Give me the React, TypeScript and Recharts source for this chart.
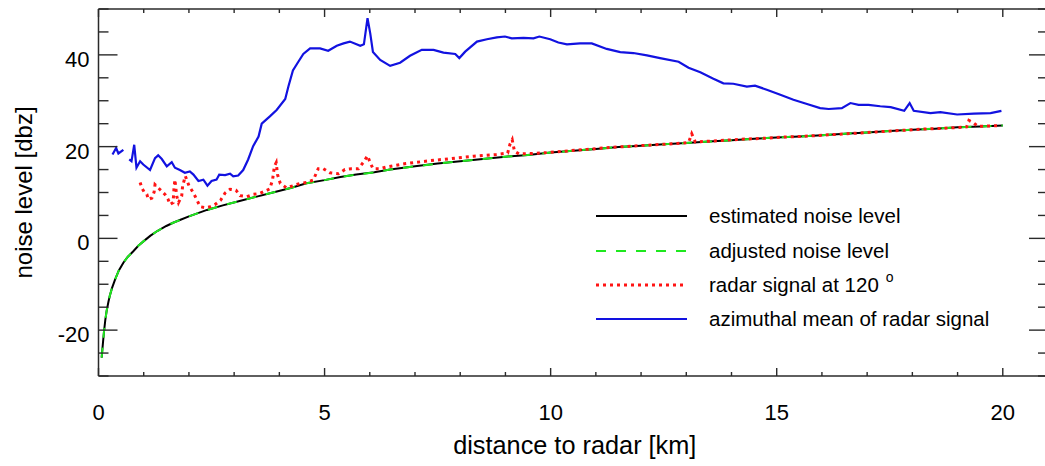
import React from 'react';
import { LineChart, Line, XAxis, YAxis, Legend, Label } from 'recharts';

const FONT = '"Liberation Sans", Arial, Helvetica, sans-serif';
const AXIS = '#2a2a2a';

// tick values
const xTicks = [0, 1, 2, 3, 4, 5, 6, 7, 8, 9, 10, 11, 12, 13, 14, 15, 16, 17, 18, 19, 20, 21];
const xLabelTicks = [0, 5, 10, 15, 20];
const yTicks = [-30, -25, -20, -15, -10, -5, 0, 5, 10, 15, 20, 25, 30, 35, 40, 45, 50];
const yLabelTicks = [-20, 0, 20, 40];

// estimated / adjusted noise level
const noiseKm = [0.07, 0.085, 0.1, 0.12, 0.15, 0.18, 0.22, 0.25, 0.3, 0.37, 0.45, 0.55, 0.65, 0.77, 0.88, 1.0, 1.15, 1.3, 1.5, 1.65, 1.8, 2.0, 2.2, 2.4, 2.75, 3.1, 3.5, 3.9, 4.25, 4.6, 5.0, 5.35, 5.7, 6.1, 6.45, 7.0, 7.5, 8.0, 8.5, 9.0, 9.5, 10.0, 10.5, 11.0, 11.5, 12.0, 12.5, 13.0, 13.5, 14.0, 14.5, 15.0, 15.5, 16.0, 16.5, 17.0, 17.5, 18.0, 18.5, 19.0, 19.5, 20.0];
const estimatedNoise = [-26.0, -24.3, -22.6, -20.5, -17.8, -15.8, -13.8, -12.5, -10.8, -8.9, -7.0, -5.3, -4.0, -2.8, -1.6, -0.6, 0.6, 1.6, 2.7, 3.4, 4.0, 4.8, 5.5, 6.2, 7.2, 8.1, 9.1, 10.1, 11.0, 12.0, 12.7, 13.4, 13.9, 14.4, 15.0, 15.7, 16.3, 16.8, 17.3, 17.8, 18.2, 18.7, 19.1, 19.5, 19.9, 20.2, 20.5, 20.8, 21.1, 21.4, 21.7, 22.0, 22.2, 22.5, 22.8, 23.1, 23.4, 23.7, 23.9, 24.2, 24.4, 24.6];
const adjustedNoise = [-26.0, -24.3, -22.6, -20.5, -17.8, -15.8, -13.8, -12.5, -10.8, -8.9, -7.0, -5.3, -4.0, -2.8, -1.6, -0.6, 0.6, 1.6, 2.7, 3.4, 4.0, 4.8, 5.5, 6.2, 7.2, 8.1, 9.1, 10.1, 11.0, 12.0, 12.7, 13.4, 13.9, 14.4, 15.0, 15.7, 16.3, 16.8, 17.3, 17.8, 18.2, 18.7, 19.1, 19.5, 19.9, 20.2, 20.5, 20.8, 21.1, 21.4, 21.7, 22.0, 22.2, 22.5, 22.8, 23.1, 23.4, 23.7, 23.9, 24.2, 24.4, 24.6];

// radar signal at 120 degrees
const radarKm = [0.92, 0.96, 1.01, 1.07, 1.10, 1.18, 1.23, 1.25, 1.47, 1.54, 1.58, 1.65, 1.67, 1.69, 1.73, 1.77, 1.84, 1.86, 1.89, 1.92, 2.0, 2.10, 2.17, 2.25, 2.36, 2.47, 2.58, 2.70, 2.80, 2.91, 3.04, 3.13, 3.28, 3.42, 3.57, 3.68, 3.79, 3.85, 3.89, 3.93, 3.96, 4.02, 4.16, 4.31, 4.46, 4.61, 4.75, 4.86, 4.97, 5.12, 5.31, 5.45, 5.60, 5.75, 5.86, 5.95, 6.01, 6.07, 6.23, 6.38, 6.8, 7.3, 7.8, 8.3, 8.8, 9.05, 9.1, 9.15, 9.2, 9.3, 9.8, 10.3, 10.8, 11.3, 11.8, 12.3, 12.8, 13.05, 13.12, 13.2, 13.7, 14.2, 14.7, 15.2, 15.7, 16.2, 16.7, 17.2, 17.7, 18.2, 18.7, 19.2, 19.25, 19.35, 19.45, 19.95];
const radarSignal = [12.2, 11.0, 10.1, 9.6, 8.5, 8.8, 10.1, 11.7, 9.6, 8.5, 7.4, 7.8, 11.0, 12.8, 9.2, 7.8, 9.2, 11.4, 12.5, 13.6, 11.5, 9.9, 8.5, 6.9, 6.7, 6.9, 7.4, 8.3, 9.9, 10.7, 10.5, 9.3, 9.1, 9.6, 9.8, 10.3, 10.8, 12.8, 15.7, 16.5, 13.9, 12.0, 11.0, 11.5, 12.0, 12.2, 12.7, 15.2, 15.2, 14.3, 14.1, 15.0, 15.2, 15.2, 16.6, 18.0, 16.5, 15.2, 15.2, 15.6, 16.3, 16.9, 17.4, 17.9, 18.3, 18.6, 20.5, 21.5, 19.0, 18.4, 18.6, 19.0, 19.4, 19.8, 20.1, 20.4, 20.7, 20.9, 22.8, 21.0, 21.3, 21.6, 21.8, 22.1, 22.3, 22.6, 22.9, 23.2, 23.5, 23.8, 24.0, 24.3, 25.7, 25.2, 24.4, 24.6];

// azimuthal mean of radar signal (null = gap)
const meanKm = [0.31, 0.39, 0.44, 0.55, 0.6, 0.68, 0.73, 0.79, 0.84, 0.92, 0.99, 1.14, 1.25, 1.32, 1.40, 1.51, 1.62, 1.69, 1.80, 1.91, 2.02, 2.10, 2.21, 2.32, 2.41, 2.50, 2.61, 2.67, 2.80, 2.91, 2.98, 3.09, 3.20, 3.31, 3.42, 3.54, 3.61, 3.79, 3.94, 4.13, 4.20, 4.30, 4.42, 4.53, 4.68, 4.90, 5.08, 5.27, 5.42, 5.56, 5.79, 5.87, 5.95, 6.01, 6.07, 6.23, 6.45, 6.67, 6.89, 7.15, 7.41, 7.63, 7.89, 7.98, 8.11, 8.37, 8.59, 8.81, 8.99, 9.14, 9.40, 9.62, 9.75, 9.99, 10.17, 10.36, 10.65, 10.91, 11.24, 11.54, 11.83, 12.13, 12.42, 12.83, 13.05, 13.31, 13.60, 13.82, 14.04, 14.34, 14.52, 14.78, 15.08, 15.37, 15.67, 15.96, 16.15, 16.44, 16.63, 16.81, 17.03, 17.29, 17.52, 17.82, 17.94, 18.03, 18.40, 18.62, 18.99, 19.36, 19.73, 19.97];
const meanSignal = [18.3, 19.7, 18.5, 19.3, null, 17.2, 16.8, 20.4, 15.4, 16.8, 16.1, 14.9, 17.5, 18.1, 17.3, 15.7, 16.6, 15.4, 14.9, 14.3, 14.6, 13.9, 12.5, 12.8, 11.5, 12.5, 12.8, 13.9, 13.8, 14.1, 13.5, 13.7, 14.9, 17.2, 20.1, 22.2, 25.0, 26.6, 28.0, 30.4, 33.1, 36.6, 38.5, 40.2, 41.4, 41.4, 40.9, 42.0, 42.5, 42.9, 42.0, 42.3, 48.0, 44.7, 40.6, 38.9, 37.6, 38.3, 39.8, 41.1, 41.1, 40.5, 40.2, 39.3, 40.7, 42.9, 43.4, 43.8, 44.0, 43.6, 43.7, 43.6, 44.0, 43.4, 42.7, 42.3, 42.5, 42.5, 41.3, 40.6, 40.4, 39.9, 39.3, 38.5, 37.2, 36.2, 34.8, 33.8, 33.7, 33.1, 33.3, 32.4, 31.3, 30.2, 29.3, 28.4, 28.2, 28.4, 29.5, 29.1, 29.1, 28.8, 28.6, 27.8, 29.5, 27.8, 27.3, 27.5, 27.0, 27.2, 27.3, 27.8];

const noiseData = noiseKm.map((x, i) => ({ x, est: estimatedNoise[i], adj: adjustedNoise[i] }));
const radarData = radarKm.map((x, i) => ({ x, y: radarSignal[i] }));
const meanData = meanKm.map((x, i) => ({ x, y: meanSignal[i] }));

const BLACK = '#000000';
const GREEN = '#1fe81f';
const RED = '#ff1414';
const BLUE = '#1212e0';

function BottomTick(props: any) {
  const { x, y, payload } = props;
  const v = payload.value;
  const major = xLabelTicks.includes(v);
  return (
    <g>
      <line x1={x} x2={x} y1={y} y2={y - (major ? 8 : 4)} stroke={AXIS} strokeWidth={1.4} />
      {major ? (
        <text x={x} y={y + 44} textAnchor="middle" fontFamily={FONT} fontSize={22} fill="#000">{v}</text>
      ) : null}
    </g>
  );
}

function TopTick(props: any) {
  const { x, y, payload } = props;
  const major = xLabelTicks.includes(payload.value);
  return <line x1={x} x2={x} y1={y} y2={y + (major ? 8 : 4)} stroke={AXIS} strokeWidth={1.4} />;
}

function LeftTick(props: any) {
  const { x, y, payload } = props;
  const v = payload.value;
  const major = yLabelTicks.includes(v);
  return (
    <g>
      <line x1={x} x2={x + (major ? 19 : 10)} y1={y} y2={y} stroke={AXIS} strokeWidth={1.4} />
      {major ? (
        <text x={x - 9} y={y + 12} textAnchor="end" fontFamily={FONT} fontSize={22} fill="#000">{v}</text>
      ) : null}
    </g>
  );
}

function RightTick(props: any) {
  const { x, y, payload } = props;
  const major = yLabelTicks.includes(payload.value);
  return <line x1={x} x2={x - (major ? 19 : 10)} y1={y} y2={y} stroke={AXIS} strokeWidth={1.4} />;
}

function XTitle(p: any) {
  const vb = p && p.viewBox && typeof p.viewBox.x === 'number' ? p.viewBox : { x: 98.5, y: 376, width: 949.5, height: 90 };
  return (
    <text x={vb.x + vb.width / 2 + 1.5} y={454} textAnchor="middle" fontFamily={FONT} fontSize={25.3} fill="#000">
      distance to radar [km]
    </text>
  );
}

function YTitle(p: any) {
  const vb = p && p.viewBox && typeof p.viewBox.y === 'number' ? p.viewBox : { x: 0, y: 9, width: 98.5, height: 367 };
  const cy = vb.y + vb.height / 2;
  return (
    <text x={32} y={cy} transform={`rotate(-90, 32, ${cy})`} textAnchor="middle" fontFamily={FONT} fontSize={24} fill="#000">
      noise level [dbz]
    </text>
  );
}

const legendRows = [
  { label: 'estimated noise level', stroke: BLACK, dash: undefined as string | undefined, width: 2 },
  { label: 'adjusted noise level', stroke: GREEN, dash: '10 10', width: 2 },
  { label: 'radar signal at 120', stroke: RED, dash: '3 4', width: 3, degree: true },
  { label: 'azimuthal mean of radar signal', stroke: BLUE, dash: undefined as string | undefined, width: 2.2 },
];
const legendRowY = [26, 61, 95, 129];

function LegendBox() {
  return (
    <svg width={450} height={150} style={{ display: 'block' }}>
      {legendRows.map((r, i) => (
        <g key={r.label}>
          <line x1={16} x2={107} y1={legendRowY[i]} y2={legendRowY[i]} stroke={r.stroke} strokeWidth={r.width} strokeDasharray={r.dash} />
          <text x={129} y={legendRowY[i] + 7} fontFamily={FONT} fontSize={20.5} fill="#000">
            {r.label}
            {(r as any).degree ? <tspan dx={7} dy={-10} fontSize={14}>o</tspan> : null}
          </text>
        </g>
      ))}
    </svg>
  );
}

export default function App() {
  const axisLine = { stroke: AXIS, strokeWidth: 1.5 };
  return (
    <div style={{ position: 'absolute', left: 0, top: 0, width: 1045, height: 466, overflow: 'hidden', background: '#fff' }}>
      <LineChart width={1060} height={466} margin={{ top: 0, right: 0, bottom: 0, left: 0 }}>
        <XAxis xAxisId="b" dataKey="x" type="number" domain={[0, 21]} allowDataOverflow ticks={xTicks} interval={0}
          height={90} tickSize={0} tickMargin={0} tickLine={false} axisLine={axisLine} tick={<BottomTick />}>
          <Label content={XTitle} />
        </XAxis>
        <XAxis xAxisId="t" orientation="top" dataKey="x" type="number" domain={[0, 21]} allowDataOverflow ticks={xTicks} interval={0}
          height={9} tickSize={0} tickMargin={0} tickLine={false} axisLine={axisLine} tick={<TopTick />} />
        <YAxis yAxisId="l" type="number" domain={[-30, 50]} allowDataOverflow ticks={yTicks} interval={0}
          width={98.5} tickSize={0} tickMargin={0} tickLine={false} axisLine={axisLine} tick={<LeftTick />}>
          <Label content={YTitle} />
        </YAxis>
        <YAxis yAxisId="r" orientation="right" type="number" domain={[-30, 50]} allowDataOverflow ticks={yTicks} interval={0}
          width={12} tickSize={0} tickMargin={0} tickLine={false} axisLine={axisLine} tick={<RightTick />} />
        <Legend layout="vertical" align="center" verticalAlign="middle" content={<LegendBox />}
          wrapperStyle={{ position: 'absolute', left: 580, top: 190, width: 450, height: 150 }} />
        <Line xAxisId="b" yAxisId="l" data={noiseData} dataKey="est" name="estimated noise level" type="linear"
          stroke={BLACK} strokeWidth={2} dot={false} activeDot={false} isAnimationActive={false} />
        <Line xAxisId="b" yAxisId="l" data={noiseData} dataKey="adj" name="adjusted noise level" type="linear"
          stroke={GREEN} strokeWidth={2} strokeDasharray="10 10" dot={false} activeDot={false} isAnimationActive={false} />
        <Line xAxisId="b" yAxisId="l" data={radarData} dataKey="y" name="radar signal at 120°" type="linear"
          stroke={RED} strokeWidth={3} strokeDasharray="3 4" dot={false} activeDot={false} isAnimationActive={false} />
        <Line xAxisId="b" yAxisId="l" data={meanData} dataKey="y" name="azimuthal mean of radar signal" type="linear"
          stroke={BLUE} strokeWidth={2.2} dot={false} activeDot={false} isAnimationActive={false} connectNulls={false} />
      </LineChart>
    </div>
  );
}
